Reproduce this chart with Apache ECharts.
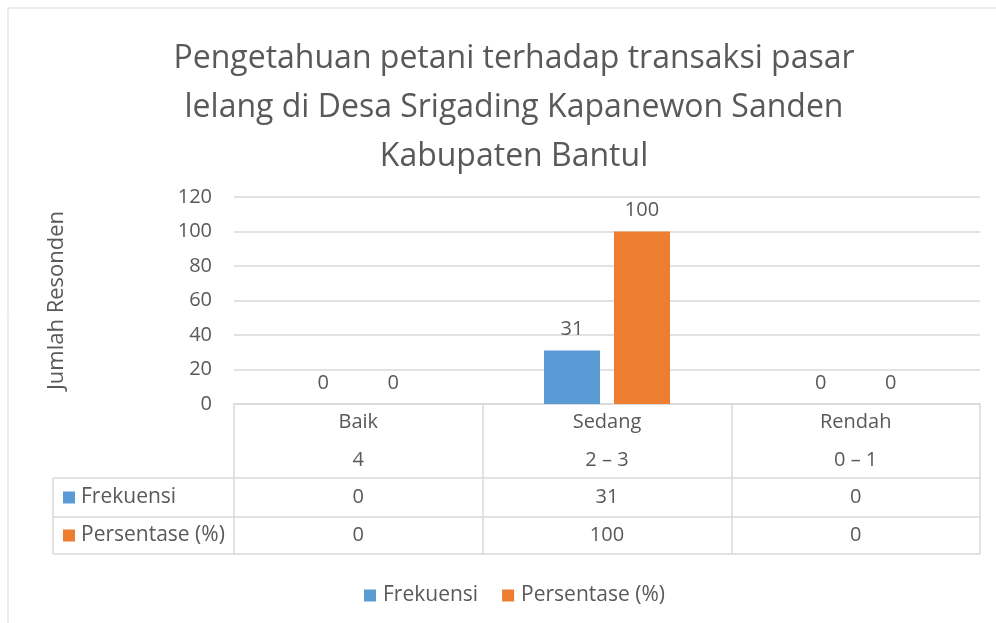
<!DOCTYPE html>
<html>
<head>
<meta charset="utf-8">
<script src="https://cdn.jsdelivr.net/npm/echarts@6.0.0/dist/echarts.min.js"></script>
<style>
  html, body { margin: 0; padding: 0; background: #fff; }
  #chart { width: 996px; height: 623px; }
</style>
</head>
<body>
<div id="chart"></div>
<script>
  // data
  var categories = ["Baik", "Sedang", "Rendah"];
  var ranges = ["4", "2 – 3", "0 – 1"];
  var frekuensi = [0, 31, 0];
  var persentase = [0, 100, 0];
  var yTicks = [0, 20, 40, 60, 80, 100, 120];

  var FONT = "Open Sans";
  var TXT = "#595959";
  var LINE = "#d9d9d9";
  var BLUE = "#5b9bd5";
  var ORANGE = "#ed7d31";

  var gLeft = 234, gRight = 980, gTop = 197, gBottom = 404;
  var rowLines = [478, 517, 554];
  var tableLeft = 53;

  var chart = echarts.init(document.getElementById("chart"));

  var graphics = [];
  // outer chart border (top + left)
  graphics.push({ type: "line", shape: { x1: 8, y1: 8, x2: 996, y2: 8 }, style: { stroke: LINE, lineWidth: 1 } });
  graphics.push({ type: "line", shape: { x1: 8, y1: 8, x2: 8, y2: 623 }, style: { stroke: LINE, lineWidth: 1 } });
  // table horizontal lines
  rowLines.forEach(function (y) {
    graphics.push({ type: "line", shape: { x1: tableLeft, y1: y, x2: gRight, y2: y }, style: { stroke: LINE, lineWidth: 1.5 } });
  });
  graphics.push({ type: "line", shape: { x1: tableLeft, y1: rowLines[0], x2: tableLeft, y2: rowLines[2] }, style: { stroke: LINE, lineWidth: 1.5 } });
  // row legend keys
  [["Frekuensi", BLUE], ["Persentase (%)", ORANGE]].forEach(function (r, i) {
    var cy = (rowLines[i] + rowLines[i + 1]) / 2;
    graphics.push({ type: "rect", shape: { x: 63, y: cy - 6, width: 12, height: 12 }, style: { fill: r[1] } });
    graphics.push({ type: "text", x: 81, y: cy, style: { text: r[0], fill: TXT, font: "21px '" + FONT + "'", verticalAlign: "middle" } });
  });

  var option = {
    backgroundColor: "#fff",
    animation: false,
    title: {
      text: "Pengetahuan petani terhadap transaksi pasar\nlelang di Desa Srigading Kapanewon Sanden\nKabupaten Bantul",
      left: 509,
      textAlign: "center",
      top: 29,
      textStyle: { color: TXT, fontFamily: FONT, fontSize: 32, fontWeight: "normal", lineHeight: 49 }
    },
    legend: {
      data: ["Frekuensi", "Persentase (%)"],
      left: 359,
      top: 580,
      itemWidth: 12,
      itemHeight: 12,
      itemGap: 24,
      icon: "rect",
      textStyle: { color: TXT, fontFamily: FONT, fontSize: 21, padding: [0, 0, 0, 2] }
    },
    grid: { left: gLeft, right: 996 - gRight, top: gTop, bottom: 623 - gBottom, containLabel: false },
    xAxis: {
      type: "category",
      data: categories,
      axisLine: { lineStyle: { color: LINE, width: 1.5 } },
      axisTick: { show: true, alignWithLabel: false, length: 150, lineStyle: { color: LINE, width: 1.5 } },
      axisLabel: {
        margin: 0,
        color: TXT,
        fontFamily: FONT,
        fontSize: 20,
        lineHeight: 37.5,
        formatter: function (v, i) {
          return v + "\n" + ranges[i] + "\n" + frekuensi[i] + "\n" + persentase[i];
        }
      }
    },
    yAxis: {
      type: "value",
      min: yTicks[0],
      max: yTicks[yTicks.length - 1],
      interval: 20,
      name: "Jumlah Resonden",
      nameLocation: "middle",
      nameGap: 166,
      nameRotate: 90,
      nameTextStyle: { color: TXT, fontFamily: FONT, fontSize: 22 },
      axisLine: { show: false },
      axisTick: { show: false },
      axisLabel: { margin: 22, color: TXT, fontFamily: FONT, fontSize: 20 },
      splitLine: { lineStyle: { color: LINE, width: 1.5 } }
    },
    series: [
      {
        name: "Frekuensi",
        type: "bar",
        data: frekuensi,
        barWidth: 56,
        barGap: "25%",
        itemStyle: { color: BLUE },
        label: { show: true, position: "top", distance: 11, color: TXT, fontFamily: FONT, fontSize: 20 }
      },
      {
        name: "Persentase (%)",
        type: "bar",
        data: persentase,
        barWidth: 56,
        barGap: "25%",
        itemStyle: { color: ORANGE },
        label: { show: true, position: "top", distance: 11, color: TXT, fontFamily: FONT, fontSize: 20 }
      }
    ],
    graphic: graphics
  };

  chart.setOption(option);
</script>
</body>
</html>
